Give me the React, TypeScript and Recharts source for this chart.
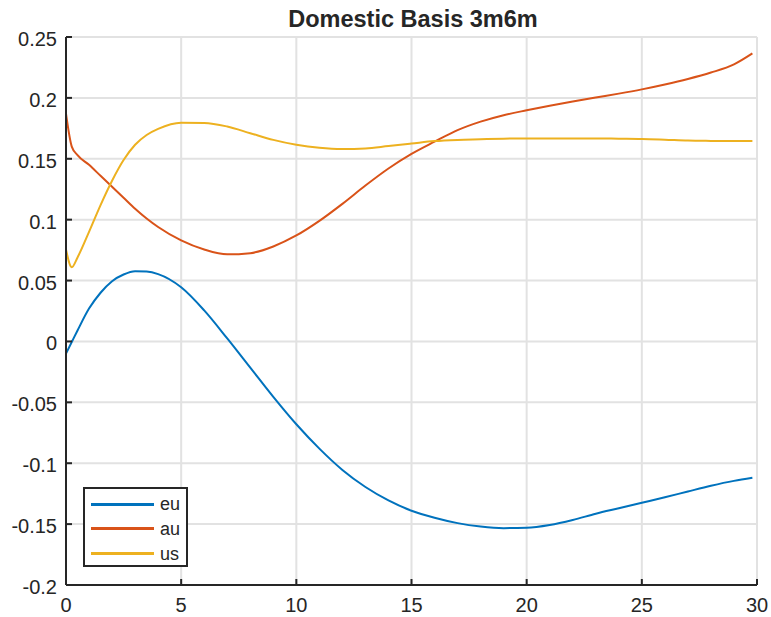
import React from "react";
import { LineChart, Line, XAxis, YAxis, CartesianGrid, Legend } from "recharts";

const title = "Domestic Basis 3m6m";
const xs = [0, 0.25, 0.5, 1, 1.5, 2, 2.5, 3, 3.5, 4, 5, 6, 7, 8, 9, 10, 11, 12, 13, 14, 15, 16, 17, 18, 19, 20, 21, 22, 23, 24, 25, 26, 27, 28, 29, 29.8];
const eu = [-0.010, -0.0005, 0.009, 0.027, 0.040, 0.0495, 0.055, 0.0577, 0.0574, 0.0553, 0.0445, 0.0255, 0.0025, -0.0215, -0.0455, -0.068, -0.088, -0.1055, -0.1195, -0.1305, -0.139, -0.1448, -0.1492, -0.152, -0.1533, -0.153, -0.1507, -0.1466, -0.1415, -0.137, -0.1325, -0.128, -0.1232, -0.1185, -0.1145, -0.112];
const au = [0.187, 0.160, 0.153, 0.145, 0.136, 0.127, 0.118, 0.109, 0.101, 0.094, 0.083, 0.0755, 0.0715, 0.0725, 0.078, 0.087, 0.099, 0.113, 0.128, 0.142, 0.154, 0.164, 0.1735, 0.1805, 0.1858, 0.1898, 0.1935, 0.197, 0.2003, 0.2035, 0.207, 0.211, 0.2155, 0.2208, 0.2275, 0.2365];
const us = [0.0755, 0.061, 0.069, 0.090, 0.112, 0.132, 0.149, 0.1615, 0.1695, 0.1745, 0.1795, 0.1794, 0.1765, 0.171, 0.1655, 0.1615, 0.159, 0.158, 0.1585, 0.1605, 0.1625, 0.1645, 0.1655, 0.166, 0.1665, 0.1667, 0.1667, 0.1667, 0.1667, 0.1665, 0.1663, 0.1657, 0.165, 0.1647, 0.1645, 0.1645];
const xTicks = [0, 5, 10, 15, 20, 25, 30];
const yTicks = [-0.2, -0.15, -0.1, -0.05, 0, 0.05, 0.1, 0.15, 0.2, 0.25];
const seriesNames = ["eu", "au", "us"];
const seriesColors = ["#0072BD", "#D95319", "#EDB120"];

const data = xs.map((x, i) => ({ x, eu: eu[i], au: au[i], us: us[i] }));

const W = 771;
const H = 617;
const FONT = "'Liberation Sans', Arial, sans-serif";
const AX = "#262626";
const TL = 6;

const fmtY = (v: number) => String(Math.round(v * 100) / 100);

const BottomTick = (p: any) => (
  <g>
    <line x1={p.x} x2={p.x} y1={p.y} y2={p.y - TL} stroke={AX} strokeWidth={2} />
    <text x={p.x} y={p.y + 27} textAnchor="middle" fontSize={20} fill={AX} fontFamily={FONT}>
      {p.payload.value}
    </text>
  </g>
);
const TopTick = (p: any) => (
  <line x1={p.x} x2={p.x} y1={p.y} y2={p.y + TL} stroke={AX} strokeWidth={2} />
);
const LeftTick = (p: any) => (
  <g>
    <line x1={p.x} x2={p.x + TL} y1={p.y} y2={p.y} stroke={AX} strokeWidth={2} />
    <text x={p.x - 9} y={p.y + 9} textAnchor="end" fontSize={20} fill={AX} fontFamily={FONT}>
      {fmtY(p.payload.value)}
    </text>
  </g>
);
const RightTick = (p: any) => (
  <line x1={p.x} x2={p.x - TL} y1={p.y} y2={p.y} stroke={AX} strokeWidth={2} />
);

const LegendBox = (props: any) => {
  const payload = [...(props.payload || [])].sort(
    (a: any, b: any) => seriesNames.indexOf(a.value) - seriesNames.indexOf(b.value)
  );
  return (
    <div
      style={{
        width: 105,
        height: 80,
        boxSizing: "border-box",
        border: `2px solid ${AX}`,
        background: "#fff",
        position: "relative",
        fontFamily: FONT,
      }}
    >
      {payload.map((e: any, i: number) => (
        <div key={i} style={{ position: "absolute", left: 6, top: 3 + i * 24.8, height: 24, display: "flex", alignItems: "center" }}>
          <div style={{ width: 63, height: 3, background: e.color }} />
          <span style={{ marginLeft: 6, fontSize: 18, color: AX, lineHeight: "24px" }}>{e.value}</span>
        </div>
      ))}
    </div>
  );
};

export default function App() {
  return (
    <div style={{ position: "absolute", left: 0, top: 0, width: W, height: H }}>
      <LineChart width={W} height={H} data={data} margin={{ top: 37, right: 14, bottom: 8, left: 16 }}>
        <CartesianGrid stroke="#e2e2e2" strokeWidth={2} />
        <XAxis
          dataKey="x"
          type="number"
          domain={[0, 30]}
          ticks={xTicks}
          interval={0}
          height={24}
          tickSize={0}
          tickMargin={0}
          tickLine={false}
          axisLine={{ stroke: AX, strokeWidth: 2 }}
          tick={BottomTick}
        />
        <XAxis
          xAxisId="top"
          orientation="top"
          dataKey="x"
          type="number"
          domain={[0, 30]}
          ticks={xTicks}
          interval={0}
          height={0}
          tickSize={0}
          tickMargin={0}
          tickLine={false}
          axisLine={{ stroke: AX, strokeWidth: 2 }}
          tick={TopTick}
        />
        <YAxis
          type="number"
          domain={[-0.2, 0.25]}
          ticks={yTicks}
          interval={0}
          width={50}
          tickSize={0}
          tickMargin={0}
          tickLine={false}
          axisLine={{ stroke: AX, strokeWidth: 2 }}
          tick={LeftTick}
          allowDataOverflow
        />
        <YAxis
          yAxisId="right"
          orientation="right"
          type="number"
          domain={[-0.2, 0.25]}
          ticks={yTicks}
          interval={0}
          width={0}
          tickSize={0}
          tickMargin={0}
          tickLine={false}
          axisLine={{ stroke: AX, strokeWidth: 2 }}
          tick={RightTick}
          allowDataOverflow
        />
        {seriesNames.map((n, i) => (
          <Line
            key={n}
            dataKey={n}
            name={n}
            type="monotone"
            stroke={seriesColors[i]}
            strokeWidth={2}
            dot={false}
            activeDot={false}
            isAnimationActive={false}
          />
        ))}
        <Legend
          content={LegendBox}
          layout="horizontal"
          verticalAlign="middle"
          align="center"
          wrapperStyle={{ position: "absolute", left: 83, top: 487, width: 105, height: 80 }}
        />
      </LineChart>
      <svg width={W} height={40} style={{ position: "absolute", left: 0, top: 0, pointerEvents: "none" }}>
        <text x={413} y={27} textAnchor="middle" fontSize={23.5} fontWeight="bold" fill={AX} fontFamily={FONT}>
          {title}
        </text>
      </svg>
    </div>
  );
}
